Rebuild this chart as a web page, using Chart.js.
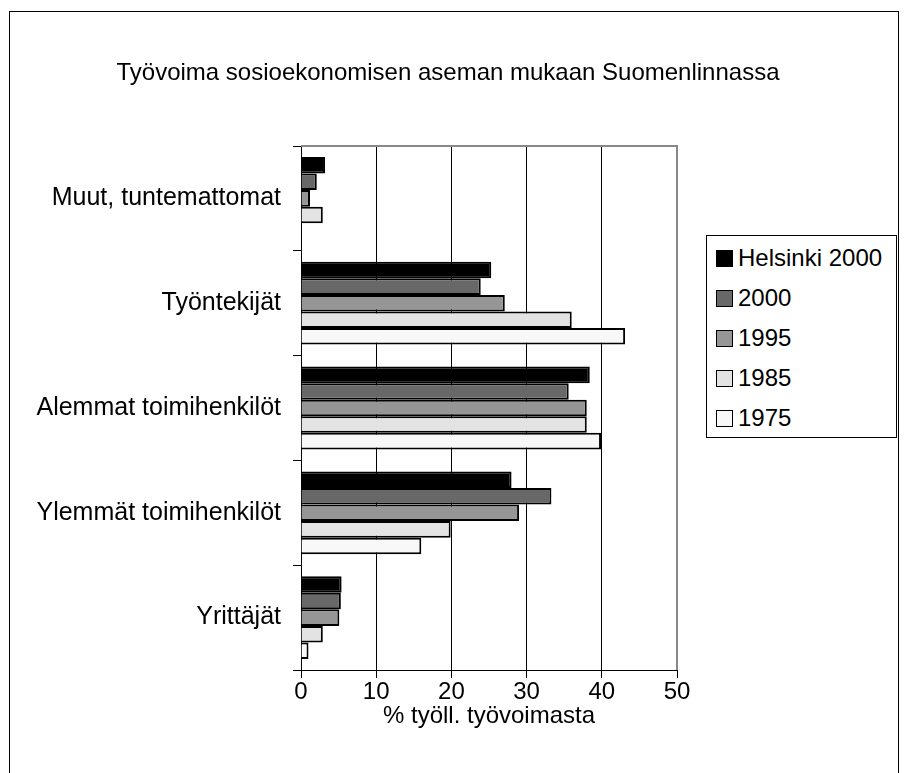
<!DOCTYPE html>
<html>
<head>
<meta charset="utf-8">
<script src="https://cdn.jsdelivr.net/npm/chart.js@4.4.0/dist/chart.umd.min.js"></script>
<style>
  body { margin: 0; background: #fff; font-family: "Liberation Sans", Arial, sans-serif; }
  #wrap { position: relative; width: 907px; height: 773px; overflow: hidden; }
  #frame { position: absolute; left: 9px; top: 11px; width: 888px; height: 800px; border: 1px solid #000; }
  #title { position: absolute; left: 0; width: 896px; top: 58px; text-align: center; font-size: 24px; color: #000; }
  #myChart { position: absolute; left: 0; top: 0; }
  #legend { position: absolute; left: 706px; top: 235px; width: 189px; height: 201px; border: 1px solid #000; background: #fff; }
  .item { position: absolute; left: 9px; height: 28px; line-height: 28px; font-size: 24px; color: #000; white-space: nowrap; }
  .item span { display: inline-block; width: 15px; height: 15px; border: 1px solid #000; margin-right: 5px; vertical-align: -1px; }
</style>
</head>
<body>
<div id="wrap">
  <div id="frame"></div>
  <canvas id="myChart" width="907" height="773"></canvas>
  <div id="title">Työvoima sosioekonomisen aseman mukaan Suomenlinnassa</div>
  <div id="legend"></div>
</div>
<script>
// categories top to bottom
const categories = ['Muut, tuntemattomat', 'Työntekijät', 'Alemmat toimihenkilöt', 'Ylemmät toimihenkilöt', 'Yrittäjät']
const seriesNames = ['Helsinki 2000', '2000', '1995', '1985', '1975']
const helsinki2000 = [3.2, 25.3, 38.4, 28.0, 5.4]
const sl2000 = [2.1, 23.9, 35.6, 33.3, 5.3]
const sl1995 = [1.2, 27.1, 38.0, 29.0, 5.1]
const sl1985 = [2.9, 36.0, 38.0, 19.9, 2.9]
const sl1975 = [null, 43.1, 39.9, 16.0, 1.0]
const xTicks = [0, 10, 20, 30, 40, 50]
const xTitle = '% työll. työvoimasta'

const fills = ['#000000', '#686868', '#969696', '#e3e3e3', '#f8f8f8']
const values = [helsinki2000, sl2000, sl1995, sl1985, sl1975]

Chart.defaults.font.family = '"Liberation Sans", Arial, sans-serif'
Chart.defaults.color = '#000'

const plotFrame = {
    id: 'plotFrame',
    afterDraw(chart) {
        const { ctx, chartArea: a } = chart
        ctx.save()
        ctx.strokeStyle = '#888'
        ctx.lineWidth = 2
        ctx.beginPath()
        ctx.moveTo(a.left, a.top)
        ctx.lineTo(a.right, a.top)
        ctx.lineTo(a.right, a.bottom)
        ctx.stroke()
        ctx.restore()
    }
}

const data = {
    labels: categories,
    datasets: seriesNames.map((name, i) => ({
        label: name,
        data: values[i],
        backgroundColor: fills[i],
        borderColor: '#000',
        borderWidth: 2,
        categoryPercentage: 0.79,
        barPercentage: 1.0
    }))
}

const config = {
    type: 'bar',
    data: data,
    options: {
        indexAxis: 'y',
        responsive: false,
        animation: false,
        layout: { padding: { left: 10, top: 146, right: 230, bottom: 42 } },
        plugins: {
            legend: { display: false },
            tooltip: { enabled: false }
        },
        scales: {
            x: {
                min: xTicks[0],
                max: xTicks[xTicks.length - 1],
                ticks: { stepSize: 10, font: { size: 24 }, padding: 0, color: '#000' },
                grid: {
                    color: c => (c.tick && c.tick.value === 50) ? '#888' : '#000',
                    tickColor: '#000',
                    tickLength: 8,
                    lineWidth: 1
                },
                border: { color: '#000', width: 1 },
                title: { display: true, text: xTitle, font: { size: 24 }, color: '#000', padding: { top: 4, bottom: 0 } },
                afterFit(scale) { scale.height = 773 - 42 - 670 }
            },
            y: {
                ticks: { font: { size: 25 }, padding: 12, color: '#000' },
                grid: { drawOnChartArea: false, tickColor: '#000', tickLength: 8 },
                border: { color: '#000', width: 1 },
                afterFit(scale) { scale.width = 291 }
            }
        }
    },
    plugins: [plotFrame]
}

const chart = new Chart(document.getElementById('myChart'), config)

// legend built from the chart's datasets
const legend = document.getElementById('legend')
chart.data.datasets.forEach((ds, i) => {
    const row = document.createElement('div')
    row.className = 'item'
    row.style.top = (8 + i * 40) + 'px'
    const box = document.createElement('span')
    box.style.background = ds.backgroundColor
    row.appendChild(box)
    row.appendChild(document.createTextNode(ds.label))
    legend.appendChild(row)
})
</script>
</body>
</html>
